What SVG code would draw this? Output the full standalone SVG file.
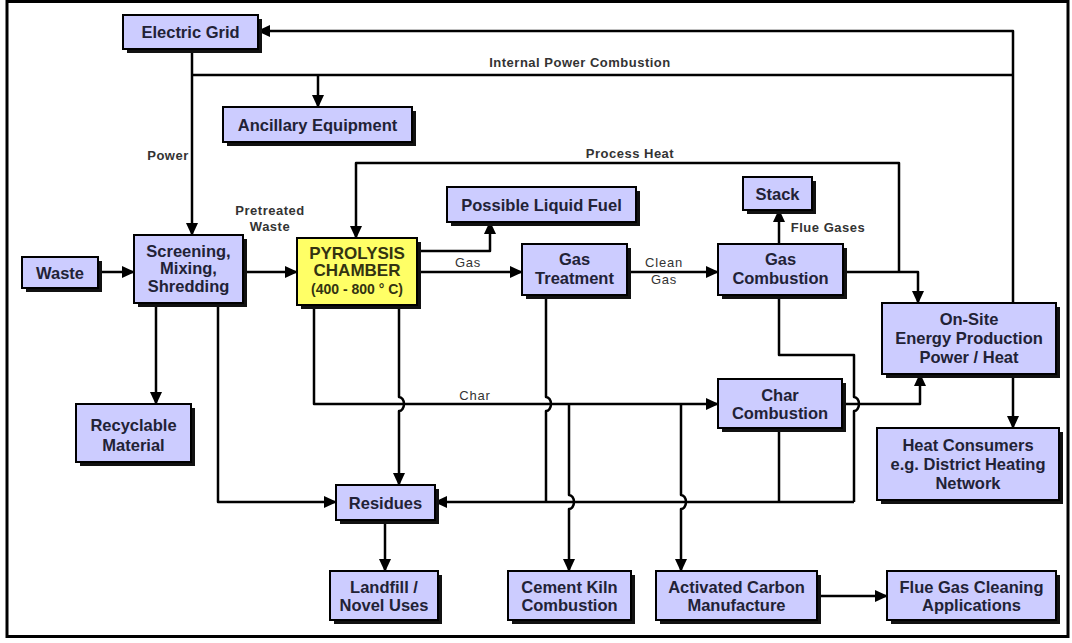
<svg xmlns="http://www.w3.org/2000/svg" width="1072" height="643" viewBox="0 0 1072 643">
  <defs>
    <marker id="arrow" markerUnits="userSpaceOnUse" markerWidth="13" markerHeight="12" refX="12" refY="6" orient="auto">
      <path d="M0,0 L13,6 L0,12 z" fill="#000"/>
    </marker>
  </defs>
  <style>
    .shadow { fill: #111; }
    .box { fill: #ccccff; stroke: #000; stroke-width: 2; }
    .hot { fill: #ffff66; stroke: #000; stroke-width: 2; }
    .t { font-family: "Liberation Sans", Arial, sans-serif; font-size: 16.5px; font-weight: bold; fill: #222236; text-anchor: middle; }
    .ty { font-family: "Liberation Sans", Arial, sans-serif; font-size: 17px; font-weight: bold; fill: #333311; text-anchor: middle; }
    .lbl { font-family: "Liberation Sans", Arial, sans-serif; font-size: 13px; font-weight: bold; letter-spacing: 0.5px; fill: #333; text-anchor: middle; }
    .lbl2 { font-family: "Liberation Sans", Arial, sans-serif; font-size: 13px; letter-spacing: 0.8px; fill: #333; text-anchor: middle; }
    .wire { fill: none; stroke: #000; stroke-width: 2.5; stroke-linejoin: round; }
  </style>

  <rect x="0" y="0" width="1072" height="643" fill="#fff"/>
  <rect x="7" y="1.5" width="1061" height="635" fill="none" stroke="#000" stroke-width="3"/>

  <!-- connectors -->
  <g id="connectors" class="wire">
    <path d="M1013,303 V31 H258" marker-end="url(#arrow)"/>
    <path d="M192,75 H1013"/>
    <path d="M192,49 V235" marker-end="url(#arrow)"/>
    <path d="M318,75 V107" marker-end="url(#arrow)"/>
    <path d="M98,272 H134" marker-end="url(#arrow)"/>
    <path d="M243,272 H297" marker-end="url(#arrow)"/>
    <path d="M156,303 V404" marker-end="url(#arrow)"/>
    <path d="M218,303 V502 H336" marker-end="url(#arrow)"/>
    <path d="M417,251 H490 V222" marker-end="url(#arrow)"/>
    <path d="M417,272 H522" marker-end="url(#arrow)"/>
    <path d="M627,272 H718" marker-end="url(#arrow)"/>
    <path d="M779,244 V210" marker-end="url(#arrow)"/>
    <path d="M843,272 H918 V303" marker-end="url(#arrow)"/>
    <path d="M899,272 V163 H356 V238" marker-end="url(#arrow)"/>
    <path d="M314,305 V404 H718" marker-end="url(#arrow)"/>
    <!-- vertical runs hop over crossing lines with a small bump -->
    <path d="M399,305 V397 a5,7 0 0 1 0,14 V485" marker-end="url(#arrow)"/>
    <path d="M546,295 V397 a5,7 0 0 1 0,14 V502"/>
    <path d="M779,295 V355 H854 V397 a5,7 0 0 1 0,14 V502"/>
    <path d="M854,502 H435" marker-end="url(#arrow)"/>
    <path d="M779,428 V502"/>
    <path d="M569,404 V495 a5,7 0 0 1 0,14 V571" marker-end="url(#arrow)"/>
    <path d="M681,404 V495 a5,7 0 0 1 0,14 V571" marker-end="url(#arrow)"/>
    <path d="M842,404 H920 V374" marker-end="url(#arrow)"/>
    <path d="M1013,374 V428" marker-end="url(#arrow)"/>
    <path d="M385,520 V571" marker-end="url(#arrow)"/>
    <path d="M817,596 H887" marker-end="url(#arrow)"/>
  </g>

  <!-- connector labels -->
  <g id="labels">
    <text class="lbl" x="580" y="67">Internal Power Combustion</text>
    <text class="lbl" x="168" y="160">Power</text>
    <text class="lbl" x="630" y="158">Process Heat</text>
    <text class="lbl" x="270" y="215">Pretreated</text>
    <text class="lbl" x="270" y="231">Waste</text>
    <text class="lbl" x="828" y="232">Flue Gases</text>
    <text class="lbl2" x="468" y="267">Gas</text>
    <text class="lbl2" x="664" y="267">Clean</text>
    <text class="lbl2" x="664" y="284">Gas</text>
    <text class="lbl2" x="475" y="400">Char</text>
  </g>

  <!-- nodes -->
  <g id="electric-grid">
    <rect class="shadow" x="127" y="19" width="135" height="34"/>
    <rect class="box" x="123" y="15" width="135" height="34"/>
    <text class="t" x="190.5" y="38">Electric Grid</text>
  </g>
  <g id="ancillary-equipment">
    <rect class="shadow" x="227" y="111" width="189" height="35"/>
    <rect class="box" x="223" y="107" width="189" height="35"/>
    <text class="t" x="317.5" y="130.5">Ancillary Equipment</text>
  </g>
  <g id="liquid-fuel">
    <rect class="shadow" x="451" y="191" width="189" height="35"/>
    <rect class="box" x="447" y="187" width="189" height="35"/>
    <text class="t" x="541.5" y="210.5">Possible Liquid Fuel</text>
  </g>
  <g id="stack">
    <rect class="shadow" x="747" y="181" width="69" height="33"/>
    <rect class="box" x="743" y="177" width="69" height="33"/>
    <text class="t" x="777.5" y="199.5">Stack</text>
  </g>
  <g id="waste">
    <rect class="shadow" x="26" y="261" width="76" height="31"/>
    <rect class="box" x="22" y="257" width="76" height="31"/>
    <text class="t" x="60" y="278.5">Waste</text>
  </g>
  <g id="screening">
    <rect class="shadow" x="138" y="239" width="109" height="68"/>
    <rect class="box" x="134" y="235" width="109" height="68"/>
    <text class="t" x="188.5" y="257">Screening,</text>
    <text class="t" x="188.5" y="274">Mixing,</text>
    <text class="t" x="188.5" y="292">Shredding</text>
  </g>
  <g id="pyrolysis-chamber">
    <rect class="shadow" x="301" y="242" width="120" height="67"/>
    <rect class="hot" x="297" y="238" width="120" height="67"/>
    <text class="ty" x="357" y="259">PYROLYSIS</text>
    <text class="ty" x="357" y="276">CHAMBER</text>
    <text class="ty" x="357" y="294" style="font-size:14px">(400 - 800 ° C)</text>
  </g>
  <g id="gas-treatment">
    <rect class="shadow" x="526" y="248" width="105" height="51"/>
    <rect class="box" x="522" y="244" width="105" height="51"/>
    <text class="t" x="574.5" y="265">Gas</text>
    <text class="t" x="574.5" y="284">Treatment</text>
  </g>
  <g id="gas-combustion">
    <rect class="shadow" x="722" y="248" width="125" height="51"/>
    <rect class="box" x="718" y="244" width="125" height="51"/>
    <text class="t" x="780.5" y="265">Gas</text>
    <text class="t" x="780.5" y="284">Combustion</text>
  </g>
  <g id="on-site-energy">
    <rect class="shadow" x="886" y="307" width="174" height="71"/>
    <rect class="box" x="882" y="303" width="174" height="71"/>
    <text class="t" x="969" y="325">On-Site</text>
    <text class="t" x="969" y="344">Energy Production</text>
    <text class="t" x="969" y="363">Power / Heat</text>
  </g>
  <g id="char-combustion">
    <rect class="shadow" x="722" y="383" width="124" height="49"/>
    <rect class="box" x="718" y="379" width="124" height="49"/>
    <text class="t" x="780" y="401">Char</text>
    <text class="t" x="780" y="419">Combustion</text>
  </g>
  <g id="heat-consumers">
    <rect class="shadow" x="881" y="432" width="182" height="72"/>
    <rect class="box" x="877" y="428" width="182" height="72"/>
    <text class="t" x="968" y="451">Heat Consumers</text>
    <text class="t" x="968" y="470">e.g. District Heating</text>
    <text class="t" x="968" y="489">Network</text>
  </g>
  <g id="recyclable-material">
    <rect class="shadow" x="80" y="408" width="115" height="58"/>
    <rect class="box" x="76" y="404" width="115" height="58"/>
    <text class="t" x="133.5" y="431">Recyclable</text>
    <text class="t" x="133.5" y="451">Material</text>
  </g>
  <g id="residues">
    <rect class="shadow" x="340" y="489" width="99" height="35"/>
    <rect class="box" x="336" y="485" width="99" height="35"/>
    <text class="t" x="385.5" y="508.5">Residues</text>
  </g>
  <g id="landfill">
    <rect class="shadow" x="334" y="575" width="108" height="49"/>
    <rect class="box" x="330" y="571" width="108" height="49"/>
    <text class="t" x="384" y="593">Landfill /</text>
    <text class="t" x="384" y="611">Novel Uses</text>
  </g>
  <g id="cement-kiln">
    <rect class="shadow" x="512" y="575" width="123" height="49"/>
    <rect class="box" x="508" y="571" width="123" height="49"/>
    <text class="t" x="569.5" y="593">Cement Kiln</text>
    <text class="t" x="569.5" y="611">Combustion</text>
  </g>
  <g id="activated-carbon">
    <rect class="shadow" x="660" y="575" width="161" height="49"/>
    <rect class="box" x="656" y="571" width="161" height="49"/>
    <text class="t" x="736.5" y="593">Activated Carbon</text>
    <text class="t" x="736.5" y="611">Manufacture</text>
  </g>
  <g id="flue-gas-cleaning">
    <rect class="shadow" x="891" y="575" width="169" height="49"/>
    <rect class="box" x="887" y="571" width="169" height="49"/>
    <text class="t" x="971.5" y="593">Flue Gas Cleaning</text>
    <text class="t" x="971.5" y="611">Applications</text>
  </g>
</svg>
